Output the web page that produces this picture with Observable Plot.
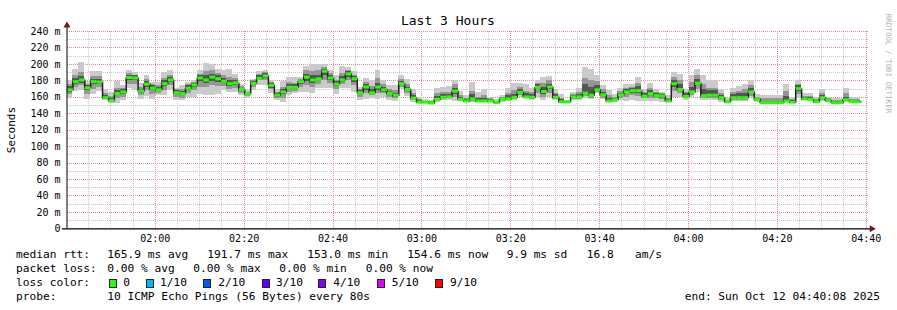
<!DOCTYPE html>
<html><head><meta charset="utf-8">
<script src="https://cdn.jsdelivr.net/npm/d3@7"></script>
<script src="https://cdn.jsdelivr.net/npm/@observablehq/plot@0.6"></script>
<style>
body{margin:0;background:#fff;}
#wrap{position:relative;width:897px;height:310px;overflow:hidden;font-family:"DejaVu Sans Mono",monospace;background:#fff;}
#chart{position:absolute;left:0;top:0;}
#legend{position:absolute;left:0;top:246px;width:897px;height:64px;font-size:11.2px;color:#000;}
#legend span{position:absolute;white-space:pre;line-height:1;}
#legend i{position:absolute;width:6px;height:7px;border:1px solid #222;}
</style></head><body><div id="wrap"><div id="chart"></div><div id="legend"></div></div>
<script>
// ---- data (milliseconds of RTT per 80 s step, from 01:40:08) ----
const title = "Last 3 Hours";
const yLabel = "Seconds";
const startTime = "2025-10-12T01:40:08Z";
const endTime = "2025-10-12T04:40:08Z";
const stepSeconds = 80;
const median = [169,179,181,171.5,179,178.5,159.5,156,164.5,166.5,
184,183.5,167.5,176,171,169,176.5,181,165.5,164.5,
171,175,183.5,181,184.5,182.5,179.5,176.5,177.5,169.5,
164,177,183,186,174.5,162.5,166.5,172,172,179,
184.5,181,182.5,191.7,183.5,176,181,188.5,182.5,165.5,
172.5,165.5,172.5,169,165,162.5,176.5,169.5,159,154,
154,153,157.5,160,160.5,167.5,157.5,155.5,158,155.5,
155.5,155.5,153.5,157.5,158,160,166,160.5,160,172,
167,172.5,160,154.5,154.5,160.5,160.5,165,162.5,169,
163,155.5,157,163,166.5,168,168,161.5,164.5,162,
161.5,155.5,176.5,169.5,161,166.5,177,162,162.5,162.5,
159.5,154.5,159.5,159.5,159.5,166.5,157.5,153.5,153.5,153.5,
153.5,155.5,154,170.5,158,157.5,154.5,159.5,156,153.5,
153.5,157,155,154.6];
const smokeLo = [159,167,168,157,163,167,156,153,153,156,
171,168,157,161,157,162,162,168,156,156,
160,160,163,162,162,163,168,166,166,162,
159,168,174,174,164,156,154,162,164,166,
166,164,171,171,171,163,171,171,166,156,
157,159,157,160,156,155,169,161,154,153,
153,153,154,156,156,155,155,154,154,154,
154,154,153,154,155,156,160,158,156,160,
156,160,156,153,153,156,156,158,157,164,
157,154,154,156,155,156,155,155,155,155,
154,154,160,160,156,160,166,156,156,156,
154,153,155,155,155,158,154,153,153,153,
153,154,153,158,156,156,153,155,154,153,
153,154,154,154];
const smokeHi = [181,194,202,179,191,191,169,166,179,174,
193,190,177,187,178,178,190,192,171,174,
178,181,192,201,200,194,193,194,188,176,
168,182,191,193,180,170,179,184,184,184,
198,200,200,200,193,186,198,196,191,172,
183,181,193,181,174,174,187,182,169,160,
157,156,171,172,173,181,167,162,178,166,
169,160,157,162,171,177,177,176,171,180,
184,185,169,163,156,166,171,196,194,187,
174,168,163,171,176,176,184,170,177,170,
166,162,190,188,170,186,194,187,180,180,
169,158,171,173,176,181,163,162,162,162,
162,176,160,180,164,165,160,169,160,159,
159,171,160,160];
const midLo = [163,172,174,163,170,172,157,154,158,160,
176,175,162,168,163,165,168,174,160,159,
165,168,172,172,174,173,173,170,171,165,
161,172,180,180,169,159,159,166,167,172,
174,172,176,180,177,169,175,180,174,160,
164,162,164,164,160,158,172,164,156,153,
153,153,155,157,158,160,156,154,155,154,
154,154,153,155,156,157,162,158,157,165,
160,165,157,153,153,157,157,161,159,166,
159,154,155,159,160,162,161,158,159,158,
157,154,167,164,158,162,170,158,158,158,
156,153,156,156,156,161,155,153,153,153,
153,154,153,163,156,156,153,156,154,153,
153,155,154,154];
const midHi = [176,186,190,176,185,185,164,161,171,171,
189,187,172,182,176,174,183,187,169,170,
175,178,188,191,192,189,186,184,183,173,
166,180,188,190,178,166,172,178,177,182,
192,191,192,196,189,181,189,192,187,169,
178,173,183,175,170,168,182,175,164,157,
155,155,164,166,166,175,162,158,167,160,
162,158,155,160,165,168,172,167,166,177,
177,180,165,159,155,163,166,183,180,179,
169,162,160,167,171,172,177,166,171,166,
164,158,184,181,166,178,187,175,171,171,
165,156,166,167,169,174,160,158,158,158,
158,167,157,176,161,161,157,165,158,156,
156,164,157,157];
const coreLo = [166,175,177,168,175,175,158,155,162,163,
180,180,165,172,168,167,173,178,163,162,
168,172,179,177,179,178,177,173,174,167,
162,175,181,183,171,160,163,169,170,176,
179,177,180,186,180,173,178,184,178,163,
168,163,168,166,163,160,174,167,157,153,
153,153,156,158,159,163,157,155,156,155,
155,155,153,156,157,158,164,159,158,169,
163,169,158,154,154,158,158,163,161,167,
161,155,156,161,164,165,165,160,162,160,
159,155,172,167,159,164,174,160,160,160,
158,154,158,158,158,164,156,153,153,153,
153,155,153,167,157,157,154,158,155,153,
153,156,155,154];
const coreHi = [173,183,185,174,182,182,162,159,168,169,
187,186,170,179,174,172,180,184,168,167,
174,177,186,186,188,186,183,181,181,171,
165,179,186,189,177,164,170,175,175,181,
188,186,187,194,187,179,185,191,185,168,
175,169,177,172,167,165,179,172,162,156,
155,154,161,163,163,171,160,157,163,158,
159,157,154,159,162,163,169,164,163,175,
172,176,163,157,155,162,163,176,172,174,
166,159,159,165,169,171,173,164,168,164,
163,157,181,175,164,172,182,170,168,168,
162,155,163,164,164,171,159,155,155,155,
155,161,156,174,160,160,156,162,157,155,
155,160,156,156];
const yTicks = [0,20,40,60,80,100,120,140,160,180,200,220,240];
const yTickLabels = ["0","20 m","40 m","60 m","80 m","100 m","120 m","140 m","160 m","180 m","200 m","220 m","240 m"];
const xTickLabels = ["02:00","02:20","02:40","03:00","03:20","03:40","04:00","04:20","04:40"];
const lossLabels = ["0","1/10","2/10","3/10","4/10","5/10","9/10"];
const lossColors = ["#26ff00","#00b8ff","#0059ff","#5e00ff","#7e00ff","#dd00ff","#ff0000"];
const statsRtt = ["median rtt:","165.9 ms avg","191.7 ms max","153.0 ms min","154.6 ms now","9.9 ms sd","16.8","am/s"];
const statsLoss = ["packet loss:","0.00 % avg","0.00 % max","0.00 % min","0.00 % now"];
const probeText = ["probe:","10 ICMP Echo Pings (56 Bytes) every 80s"];
const endText = "end: Sun Oct 12 04:40:08 2025";
const sideText = "RRDTOOL / TOBI OETIKER";

// ---- build ----
const t0 = new Date(startTime), tEnd = new Date(endTime);
const rows = median.map((m, i) => ({
  a: new Date(+t0 + i * stepSeconds * 1000),
  b: new Date(+t0 + (i + 1) * stepSeconds * 1000),
  m, lo: smokeLo[i], hi: smokeHi[i], mlo: midLo[i], mhi: midHi[i], clo: coreLo[i], chi: coreHi[i]
}));
const medLine = rows.map(r => ({t: r.a, m: r.m})).concat([{t: rows[rows.length-1].b, m: rows[rows.length-1].m}]);
const parseHM = d3.utcParse("%Y-%m-%d %H:%M");
const xTicks = xTickLabels.map(s => parseHM("2025-10-12 " + s));
const xMinor = d3.utcMinute.every(5).range(t0, tEnd).filter(d => d.getUTCMinutes() % 20 !== 0);
const yMinor = d3.range(10, 240, 20);

const chart = Plot.plot({
  width: 897, height: 246,
  marginTop: 31, marginBottom: 17.7, marginLeft: 66.5, marginRight: 30.7,
  style: {fontFamily: "DejaVu Sans Mono, monospace", fontSize: "10px", color: "#000", background: "#fff"},
  x: {type: "utc", domain: [t0, tEnd]},
  y: {domain: [0, 240]},
  marks: [
    Plot.ruleY(yMinor, {stroke: "#c8c8c8", strokeDasharray: "1,1", shapeRendering: "crispEdges", insetRight: -1.5}),
    Plot.ruleX(xMinor, {stroke: "#c8c8c8", strokeDasharray: "1,1", shapeRendering: "crispEdges"}),
    Plot.ruleY(yTicks.slice(1), {stroke: "#f08a8a", strokeDasharray: "1,1", shapeRendering: "crispEdges", insetRight: -1.5}),
    Plot.ruleX(xTicks, {stroke: "#f08a8a", strokeDasharray: "1,1", shapeRendering: "crispEdges"}),
    Plot.rect(rows, {x1: "a", x2: "b", y1: "lo", y2: "hi", fill: "#cacaca", shapeRendering: "crispEdges"}),
    Plot.rect(rows, {x1: "a", x2: "b", y1: "mlo", y2: "mhi", fill: "#969696", shapeRendering: "crispEdges"}),
    Plot.rect(rows, {x1: "a", x2: "b", y1: "clo", y2: "chi", fill: "#555555", shapeRendering: "crispEdges"}),
    Plot.line(medLine, {x: "t", y: "m", curve: "step-after", stroke: "#202020", strokeWidth: 1.5}),
    Plot.link(rows, {x1: "a", x2: "b", y1: "m", y2: "m", stroke: lossColors[0], strokeWidth: 3, strokeLinecap: "butt"}),
    Plot.axisX(xTicks, {tickFormat: d3.utcFormat("%H:%M"), tickSize: 0, tickPadding: 6, label: null, fill: "#000"}),
    Plot.axisY(yTicks, {tickFormat: (d) => yTickLabels[yTicks.indexOf(d)], tickSize: 0, tickPadding: 6.5, label: null, fill: "#000"}),
    Plot.ruleX([t0], {stroke: "#000", strokeWidth: 1, insetTop: -7}),
    Plot.ruleY([0], {stroke: "#000", strokeWidth: 1.2, insetLeft: -4.5, insetRight: -4}),
    Plot.dot([title], {frameAnchor: "top-left", dy: -6, symbol: "triangle", r: 2.6, fill: "#7a1414", stroke: "none"}),
    Plot.dot([title], {frameAnchor: "bottom-right", dx: 5, symbol: "triangle", r: 2.6, fill: "#7a1414", stroke: "none", rotate: 90}),
    Plot.text([title], {frameAnchor: "top", dx: -19, dy: -11, textAnchor: "middle", lineAnchor: "middle", fontSize: 13, fill: "#000"}),
    Plot.text([yLabel], {frameAnchor: "left", dx: -55.5, rotate: -90, textAnchor: "middle", lineAnchor: "middle", fontSize: 11, fill: "#000"}),
    Plot.text([sideText], {frameAnchor: "top-right", dx: 21.5, dy: 32, rotate: 90, textAnchor: "middle", lineAnchor: "middle", fontSize: 7.5, fill: "#b4b4b4"})
  ]
});
document.getElementById("chart").appendChild(chart);

// ---- legend (HTML below the plot) ----
const L = document.getElementById("legend");
function put(x, top, text, right) {
  const s = document.createElement("span");
  s.textContent = text;
  if (right) { s.style.right = (897 - x) + "px"; } else { s.style.left = x + "px"; }
  s.style.top = top + "px";
  L.appendChild(s);
}
const rttX = [16, 107.3, 207.3, 307.3, 407.3, 506.7, 586.7, 635];
statsRtt.forEach((t, i) => put(rttX[i], 3, t));
const lossX = [16, 107.3, 193.3, 279.3, 365.7];
statsLoss.forEach((t, i) => put(lossX[i], 16.5, t));
put(16, 31, "loss color:");
const boxX = [108.5, 145.5, 203, 261.5, 318, 376.5, 434.5];
const labX = [123.3, 160, 218.3, 276, 333.3, 391.7, 450];
lossLabels.forEach((t, i) => {
  const b = document.createElement("i");
  b.style.left = boxX[i] + "px"; b.style.top = "32.5px"; b.style.background = lossColors[i];
  L.appendChild(b);
  put(labX[i], 31, t);
});
put(16, 44.5, probeText[0]);
put(107.3, 44.5, probeText[1]);
put(880, 44.5, endText, true);
</script></body></html>
